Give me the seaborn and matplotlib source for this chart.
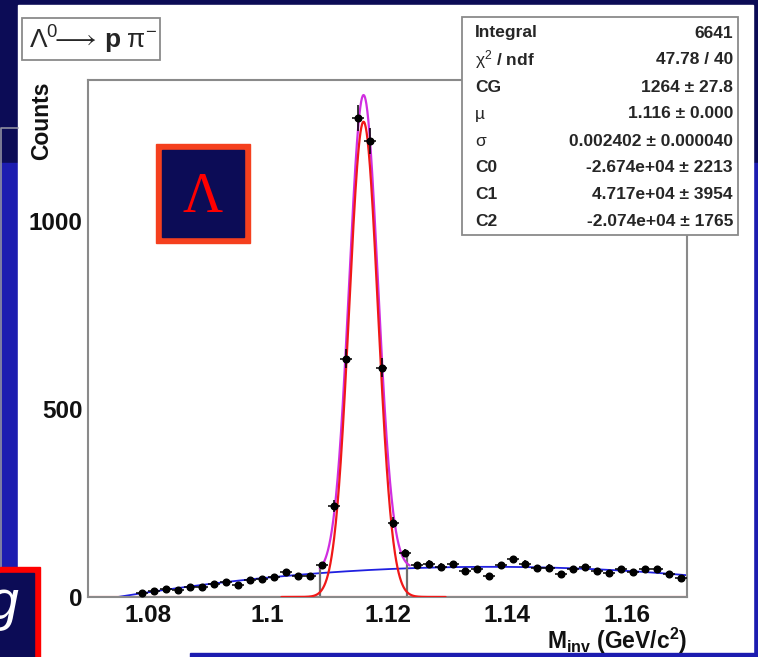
import numpy as np
import matplotlib
matplotlib.use("Agg")
import matplotlib.pyplot as plt
import seaborn as sns
from matplotlib.patches import Rectangle
from matplotlib.ticker import MultipleLocator

"""Lambda -> p pi- invariant mass peak with gaussian + pol2 fit"""

# histogram bin centres (GeV/c^2) and counts
bin_centers = [1.079, 1.081, 1.083, 1.085, 1.087, 1.089, 1.091, 1.093, 1.095, 1.097,
               1.099, 1.101, 1.103, 1.105, 1.107, 1.109, 1.111, 1.113, 1.115, 1.117,
               1.119, 1.121, 1.123, 1.125, 1.127, 1.129, 1.131, 1.133, 1.135, 1.137,
               1.139, 1.141, 1.143, 1.145, 1.147, 1.149, 1.151, 1.153, 1.155, 1.157,
               1.159, 1.161, 1.163, 1.165, 1.167, 1.169]
counts = [11, 17, 20, 19, 26, 27, 35, 41, 32, 45,
          47, 52, 66, 56, 56, 84, 242, 634, 1274, 1212,
          610, 198, 116, 85, 88, 81, 87, 70, 74, 57,
          85, 100, 88, 76, 78, 60, 74, 79, 70, 63,
          74, 67, 74, 74, 61, 51]
bin_width = 0.002

# fit parameters as printed in the stats box
fit_CG, fit_mu, fit_sigma = 1264.0, 1.116, 0.002402
fit_C0, fit_C1, fit_C2 = -2.674e4, 4.717e4, -2.074e4

# ranges over which each function is drawn
gaus_range = (1.1023, 1.1297)
total_range = (1.1087, 1.1237)
bkg_range = (1.075, 1.17)
# grey fit-range markers: position and height
range_marks_x = [1.1087, 1.1233]
range_marks_y = [84, 116]

stats_labels = ["Integral", r"$\mathrm{\chi}^{2}$ / ndf", "CG", "µ", "σ", "C0", "C1", "C2"]
stats_values = ["6641", "47.78 / 40", "1264 ± 27.8", "1.116 ± 0.000",
                "0.002402 ± 0.000040", "-2.674e+04 ± 2213",
                "4.717e+04 ± 3954", "-2.074e+04 ± 1765"]

W, H = 758, 657
NAVY = "#0c0c56"
BLUE = "#1c1cb0"
GREY = "#8a8a8a"


def fx(px):
    return px / W


def fy(py):
    return 1 - py / H


sns.set_style("white")
plt.rcParams["font.family"] = ["Liberation Sans", "DejaVu Sans"]
plt.rcParams["mathtext.fontset"] = "custom"
plt.rcParams["mathtext.rm"] = "Liberation Sans"
plt.rcParams["mathtext.bf"] = "Liberation Sans:bold"
plt.rcParams["mathtext.it"] = "Liberation Sans:italic"

fig = plt.figure(figsize=(W / 100, H / 100), dpi=100, facecolor=NAVY)

# slide background pieces
fig.patches.append(Rectangle((0, 0), 1, fy(163), transform=fig.transFigure,
                             color=BLUE, zorder=-10))
fig.patches.append(Rectangle((fx(18), 0), fx(753) - fx(18), fy(5),
                             transform=fig.transFigure, color="white", zorder=-9))
fig.patches.append(Rectangle((fx(190), 0), 1 - fx(190), fy(653),
                             transform=fig.transFigure, color=BLUE, zorder=-8))
fig.lines.append(plt.Line2D([fx(1), fx(1), fx(18)], [fy(588), fy(128), fy(128)],
                            transform=fig.transFigure, color="#9090a0", lw=1.2, zorder=-7))

ax = fig.add_axes([fx(88), fy(597), fx(687) - fx(88), fy(80) - fy(597)])
ax.set_facecolor("white")

# fitted functions
xg = np.linspace(*gaus_range, 400)
gaus = fit_CG * np.exp(-0.5 * ((xg - fit_mu) / fit_sigma) ** 2)
xb = np.linspace(*bkg_range, 400)
bkg = fit_C0 + fit_C1 * xb + fit_C2 * xb ** 2
xt = np.linspace(*total_range, 400)
tot = (fit_CG * np.exp(-0.5 * ((xt - fit_mu) / fit_sigma) ** 2)
       + fit_C0 + fit_C1 * xt + fit_C2 * xt ** 2)

ax.axhline(0, color="#ff7a7a", lw=1.6, zorder=1)
sns.lineplot(x=xb, y=bkg, ax=ax, color="#2020e0", lw=1.3, zorder=2)
sns.lineplot(x=xt, y=tot, ax=ax, color="#d02ee0", lw=1.6, zorder=3)
sns.lineplot(x=xg, y=gaus, ax=ax, color="#f01818", lw=1.6, zorder=4)
ax.vlines(range_marks_x, 0, range_marks_y, color="#707070", lw=1.6, zorder=2)

cnt = np.array(counts)
ax.errorbar(bin_centers, cnt, xerr=bin_width / 2, yerr=np.sqrt(cnt), fmt="o",
            color="black", ms=4.8, elinewidth=1.1, capsize=0, zorder=5)

ax.set_xlim(1.07, 1.17)
ax.set_ylim(0, 1375)
ax.xaxis.set_major_locator(MultipleLocator(0.02))
ax.xaxis.set_minor_locator(MultipleLocator(0.005))
ax.yaxis.set_major_locator(MultipleLocator(500))
ax.yaxis.set_minor_locator(MultipleLocator(100))
ax.xaxis.set_major_formatter(plt.FuncFormatter(lambda v, p: f"{v:g}"))
ax.tick_params(which="major", direction="in", length=14, width=1.3, color=GREY,
               labelsize=17.5, pad=5, labelcolor="#111111")
ax.tick_params(which="minor", direction="in", length=7, width=1.3, color=GREY)
ax.tick_params(axis="y", which="major", length=16, pad=4)
ax.tick_params(axis="y", which="minor", length=9)
for lab in ax.get_xticklabels() + ax.get_yticklabels():
    lab.set_fontweight("bold")
for sp in ax.spines.values():
    sp.set_color(GREY)
    sp.set_linewidth(1.5)
ax.set_xlabel("")
ax.set_ylabel("")

fig.text(fx(42), fy(121), "Counts", rotation=90, ha="center", va="center",
         fontsize=16.5, fontweight="bold", color="#111111")
fig.text(fx(687), fy(641), r"$\mathbf{M}_{\mathbf{inv}}$ (GeV/c$^{\mathbf{2}}$)",
         ha="right", va="center", fontsize=16.5, fontweight="bold", color="#111111")

# title box
fig.patches.append(Rectangle((fx(22), fy(60)), fx(160) - fx(22), fy(18) - fy(60),
                             transform=fig.transFigure, facecolor="white",
                             edgecolor=GREY, lw=1.3, zorder=5))
fig.text(fx(29), fy(40), r"$\Lambda^{0}\!\!\longrightarrow\,\mathbf{p}\;\mathrm{\pi}^{-}$",
         ha="left", va="center", fontsize=19, zorder=6)

# stats box
fig.patches.append(Rectangle((fx(462), fy(235)), fx(738) - fx(462), fy(17) - fy(235),
                             transform=fig.transFigure, facecolor="white",
                             edgecolor=GREY, lw=1.3, zorder=5))
for i, (lab, val) in enumerate(zip(stats_labels, stats_values)):
    yy = fy(33 + i * 27)
    w = "normal" if lab in ("µ", "σ") else "bold"
    fig.text(fx(475), yy, lab, ha="left", va="center", fontsize=12.5,
             fontweight=w, zorder=6)
    fig.text(fx(733), yy, val, ha="right", va="center", fontsize=12.5,
             fontweight="bold", zorder=6)

# Lambda badge
fig.patches.append(Rectangle((fx(156), fy(243)), fx(250) - fx(156), fy(144) - fy(243),
                             transform=fig.transFigure, color="#f5401e", zorder=5))
fig.patches.append(Rectangle((fx(162), fy(237)), fx(244) - fx(162), fy(150) - fy(237),
                             transform=fig.transFigure, color=NAVY, zorder=6))
fig.text(fx(203), fy(198), "Λ", ha="center", va="center", fontsize=40,
         family="Liberation Serif", color="#ff0000", zorder=7)

# clipped "g" badge at bottom left
fig.patches.append(Rectangle((0, 0), fx(40), fy(567), transform=fig.transFigure,
                             color="#ff0000", zorder=5))
fig.patches.append(Rectangle((0, 0), fx(34), fy(573), transform=fig.transFigure,
                             color=NAVY, zorder=6))
fig.text(fx(19), fy(605), "g", ha="right", va="center", fontsize=40,
         style="italic", color="white", zorder=7)

fig.savefig("out.png", dpi=100, facecolor=NAVY)
